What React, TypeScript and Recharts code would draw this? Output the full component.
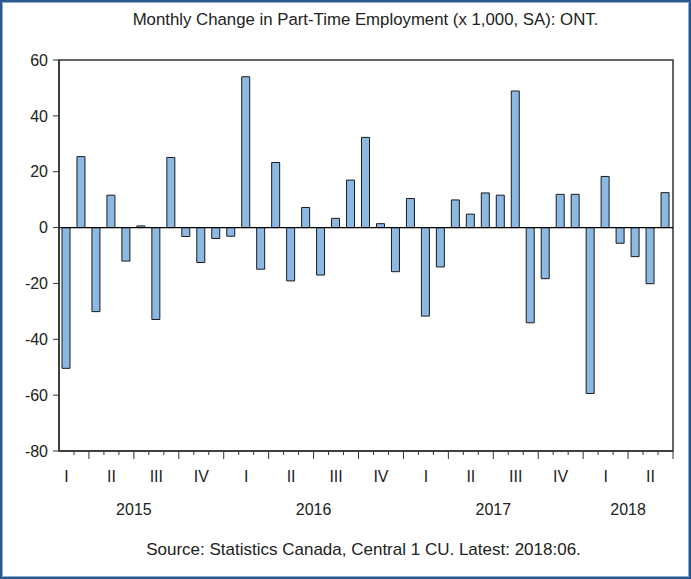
import { BarChart, Bar, XAxis, YAxis, ReferenceLine, ReferenceArea } from 'recharts'

// Feb 2015 .. Jun 2018, monthly
const months = [
  '2015-02', '2015-03', '2015-04', '2015-05', '2015-06', '2015-07', '2015-08', '2015-09', '2015-10', '2015-11', '2015-12',
  '2016-01', '2016-02', '2016-03', '2016-04', '2016-05', '2016-06', '2016-07', '2016-08', '2016-09', '2016-10', '2016-11', '2016-12',
  '2017-01', '2017-02', '2017-03', '2017-04', '2017-05', '2017-06', '2017-07', '2017-08', '2017-09', '2017-10', '2017-11', '2017-12',
  '2018-01', '2018-02', '2018-03', '2018-04', '2018-05', '2018-06',
]

// change in part-time employment, thousands, SA
const changes = [
  -50.4, 25.4, -30.1, 11.6, -12.0, 0.6, -32.9, 25.1, -3.2, -12.5, -3.9,
  -3.1, 54.0, -14.9, 23.3, -19.1, 7.2, -17.0, 3.3, 17.0, 32.3, 1.4, -15.8, 10.4,
  -31.7, -14.1, 9.9, 4.8, 12.4, 11.6, 48.9, -34.1, -18.3, 11.9, 11.9, -59.4,
  18.3, -5.6, -10.4, -20.1, 12.5,
]

const yTicks = [-80, -60, -40, -20, 0, 20, 40, 60]

// quarter numeral goes under the middle month of each quarter
const quarterNames: Record<string, string> = { '02': 'I', '05': 'II', '08': 'III', '11': 'IV' }
const quarterStarts = ['01', '04', '07', '10']

// year label sits on the left edge of these months (middle of the year's span)
const yearLabelMonths = ['2015-07', '2016-07', '2017-07', '2018-04']

const data = months.map((m, i) => ({ month: m, value: changes[i] }))

const FONT = '"Liberation Sans", Arial, sans-serif'
const INK = '#222'

function MonthTick(props: any) {
  const { x, y, payload, index, width, visibleTicksCount } = props
  const count = visibleTicksCount || months.length
  const band = (width || 614) / count
  const left = x - band / 2
  const right = x + band / 2
  const mm = payload.value.slice(5)
  const isQStart = quarterStarts.includes(mm)
  const q = quarterNames[mm]
  const showYear = yearLabelMonths.includes(payload.value)
  return (
    <g>
      {index > 0 && (
        <line x1={left} x2={left} y1={y} y2={y + (isQStart ? 8 : 4)} stroke="#333" strokeWidth={1} />
      )}
      {index === count - 1 && (
        <line x1={right} x2={right} y1={y} y2={y + 8} stroke="#333" strokeWidth={1} />
      )}
      {q && (
        <text x={x} y={y + 30.5} textAnchor="middle" fontSize={16} fill={INK} fontFamily={FONT}>
          {q}
        </text>
      )}
      {showYear && (
        <text x={left} y={y + 64} textAnchor="middle" fontSize={16} fill={INK} fontFamily={FONT}>
          {payload.value.slice(0, 4)}
        </text>
      )}
    </g>
  )
}

export default function App() {
  return (
    <div style={{ position: 'absolute', left: 0, top: 0, width: 691, height: 579, background: '#fff', fontFamily: FONT }}>
      <div
        style={{
          position: 'absolute',
          left: 0,
          top: 11,
          width: 731,
          textAlign: 'center',
          fontSize: 16.8,
          lineHeight: '17px',
          color: INK,
          whiteSpace: 'nowrap',
        }}
      >
        Monthly Change in Part-Time Employment (x 1,000, SA): ONT.
      </div>

      <BarChart
        width={691}
        height={579}
        data={data}
        margin={{ top: 60, right: 18, bottom: 0, left: 0 }}
        barSize={8}
      >
        <XAxis
          dataKey="month"
          height={128}
          interval={0}
          tickSize={0}
          tickMargin={0}
          tickLine={false}
          axisLine={{ stroke: '#333', strokeWidth: 1.5 }}
          tick={<MonthTick />}
        />
        <YAxis
          type="number"
          domain={[-80, 60]}
          ticks={yTicks}
          interval={0}
          width={59}
          tickSize={6}
          tickMargin={5}
          tick={{ fontSize: 16, fill: INK, fontFamily: FONT }}
          tickLine={{ stroke: '#333' }}
          axisLine={{ stroke: '#333', strokeWidth: 1.5 }}
        />
        {/* plot frame */}
        <ReferenceArea y1={-80} y2={60} fill="none" stroke="#333" strokeWidth={1.5} ifOverflow="visible" />
        <ReferenceLine y={0} stroke="#000" strokeWidth={1.2} />
        <Bar dataKey="value" fill="#8cb8e4" stroke="#1a1a1a" strokeWidth={1} isAnimationActive={false} />
      </BarChart>

      <div
        style={{
          position: 'absolute',
          left: 0,
          top: 541,
          width: 727,
          textAlign: 'center',
          fontSize: 17,
          lineHeight: '17px',
          color: INK,
          whiteSpace: 'nowrap',
        }}
      >
        Source: Statistics Canada, Central 1 CU. Latest: 2018:06.
      </div>

      <div
        style={{
          position: 'absolute',
          left: 0,
          top: 0,
          width: 691,
          height: 579,
          boxSizing: 'border-box',
          border: '2px solid #2b5690',
          boxShadow: 'inset 0 0 0 1px #8eabd0',
          pointerEvents: 'none',
        }}
      />
    </div>
  )
}
